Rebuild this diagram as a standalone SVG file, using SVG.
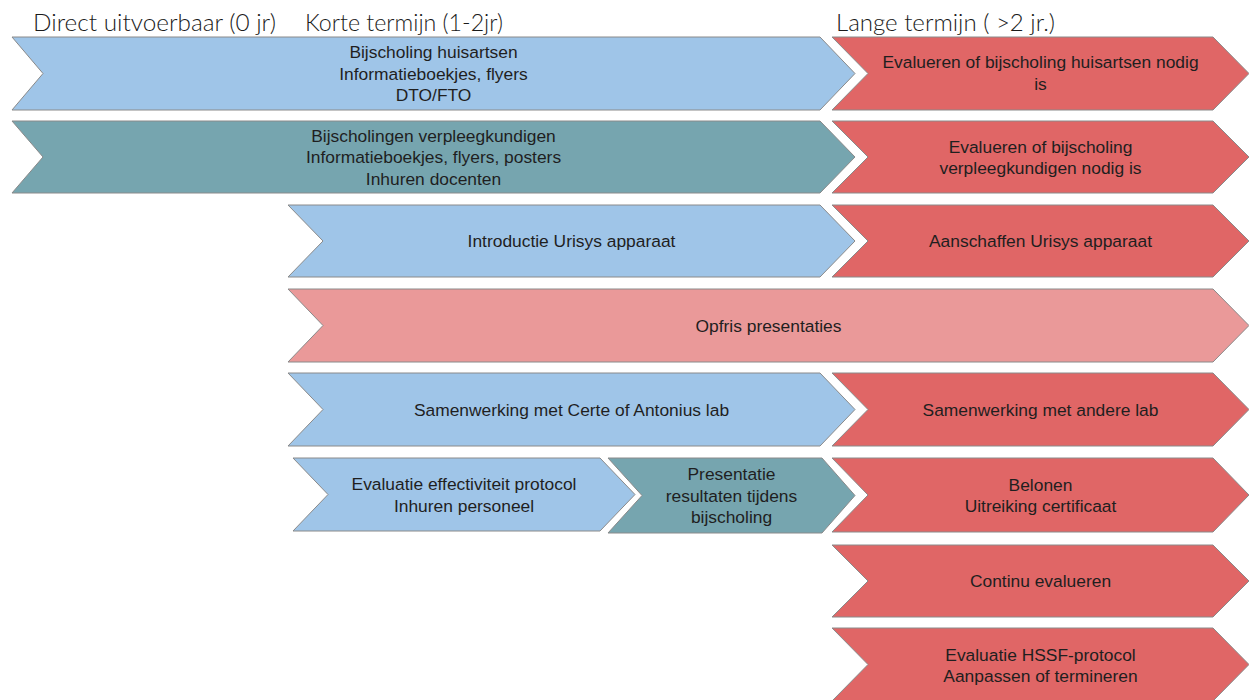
<svg xmlns="http://www.w3.org/2000/svg" width="1249" height="700" viewBox="0 0 1249 700">
  <style>
    .hdr { font-family: Lato, "Open Sans", sans-serif; font-size: 23px; font-weight: 300; fill: #1a1a1a; }
    .lbl { font-family: "Liberation Sans", Arial, sans-serif; font-size: 17.4px; fill: #1f1f1f; text-anchor: middle; }
    .arr { stroke: #8a8a8a; stroke-width: 1; stroke-linejoin: miter; }
    .blue { fill: #9fc5e8; }
    .teal { fill: #76a5af; }
    .red { fill: #e06666; }
    .pink { fill: #ea9999; }
  </style>
  <rect width="1249" height="700" fill="#ffffff"/>

  <!-- column headers -->
  <g id="headers">
    <text class="hdr" x="33" y="31" textLength="243" lengthAdjust="spacingAndGlyphs">Direct uitvoerbaar (0 jr)</text>
    <text class="hdr" x="305" y="31" textLength="198" lengthAdjust="spacingAndGlyphs">Korte termijn (1-2jr)</text>
    <text class="hdr" x="836" y="31" textLength="219" lengthAdjust="spacingAndGlyphs">Lange termijn ( &gt;2 jr.)</text>
  </g>

  <!-- row 1 -->
  <g id="bijscholing-huisartsen">
    <polygon class="arr blue" points="12,37 820,37 855,73.5 820,110 12,110 43,73.5"/>
    <text class="lbl" x="433.5" y="58">Bijscholing huisartsen</text>
    <text class="lbl" x="433.5" y="79.5">Informatieboekjes, flyers</text>
    <text class="lbl" x="433.5" y="101">DTO/FTO</text>
  </g>
  <g id="evalueren-huisartsen">
    <polygon class="arr red" points="832,37 1213,37 1249,73.5 1213,110 832,110 868,73.5"/>
    <text class="lbl" x="1040.5" y="68">Evalueren of bijscholing huisartsen nodig</text>
    <text class="lbl" x="1040.5" y="89.5">is</text>
  </g>

  <!-- row 2 -->
  <g id="bijscholing-verpleegkundigen">
    <polygon class="arr teal" points="12,121 820,121 855,157 820,193 12,193 43,157"/>
    <text class="lbl" x="433.5" y="141.5">Bijscholingen verpleegkundigen</text>
    <text class="lbl" x="433.5" y="163">Informatieboekjes, flyers, posters</text>
    <text class="lbl" x="433.5" y="184.5">Inhuren docenten</text>
  </g>
  <g id="evalueren-verpleegkundigen">
    <polygon class="arr red" points="832,121 1213,121 1249,157 1213,193 832,193 868,157"/>
    <text class="lbl" x="1040.5" y="152.5">Evalueren of bijscholing</text>
    <text class="lbl" x="1040.5" y="174">verpleegkundigen nodig is</text>
  </g>

  <!-- row 3 -->
  <g id="introductie-urisys">
    <polygon class="arr blue" points="288,205 820,205 855,241 820,277 288,277 323,241"/>
    <text class="lbl" x="571.5" y="247">Introductie Urisys apparaat</text>
  </g>
  <g id="aanschaffen-urisys">
    <polygon class="arr red" points="832,205 1213,205 1249,241 1213,277 832,277 868,241"/>
    <text class="lbl" x="1040.5" y="247">Aanschaffen Urisys apparaat</text>
  </g>

  <!-- row 4 -->
  <g id="opfris-presentaties">
    <polygon class="arr pink" points="288,289 1213,289 1249,325.5 1213,362 288,362 323,325.5"/>
    <text class="lbl" x="768.5" y="331.5">Opfris presentaties</text>
  </g>

  <!-- row 5 -->
  <g id="samenwerking-lab">
    <polygon class="arr blue" points="288,373 820,373 855,409.5 820,446 288,446 323,409.5"/>
    <text class="lbl" x="571.5" y="415.5">Samenwerking met Certe of Antonius lab</text>
  </g>
  <g id="samenwerking-andere-lab">
    <polygon class="arr red" points="832,373 1213,373 1249,409.5 1213,446 832,446 868,409.5"/>
    <text class="lbl" x="1040.5" y="415.5">Samenwerking met andere lab</text>
  </g>

  <!-- row 6 -->
  <g id="evaluatie-effectiviteit">
    <polygon class="arr blue" points="293,458 600,458 635,494.5 600,531 293,531 328,494.5"/>
    <text class="lbl" x="464" y="490">Evaluatie effectiviteit protocol</text>
    <text class="lbl" x="464" y="511.5">Inhuren personeel</text>
  </g>
  <g id="presentatie-resultaten">
    <polygon class="arr teal" points="608,458 822,458 855,495.5 822,533 608,533 642,495.5"/>
    <text class="lbl" x="731.5" y="480">Presentatie</text>
    <text class="lbl" x="731.5" y="501.5">resultaten tijdens</text>
    <text class="lbl" x="731.5" y="523">bijscholing</text>
  </g>
  <g id="belonen">
    <polygon class="arr red" points="832,458 1213,458 1249,495 1213,532 832,532 868,495"/>
    <text class="lbl" x="1040.5" y="490.5">Belonen</text>
    <text class="lbl" x="1040.5" y="512">Uitreiking certificaat</text>
  </g>

  <!-- row 7 -->
  <g id="continu-evalueren">
    <polygon class="arr red" points="832,545 1213,545 1249,581 1213,617 832,617 868,581"/>
    <text class="lbl" x="1040.5" y="587">Continu evalueren</text>
  </g>

  <!-- row 8 -->
  <g id="evaluatie-hssf">
    <polygon class="arr red" points="832,628 1213,628 1249,664.5 1213,701 832,701 868,664.5"/>
    <text class="lbl" x="1040.5" y="660.5">Evaluatie HSSF-protocol</text>
    <text class="lbl" x="1040.5" y="682">Aanpassen of termineren</text>
  </g>

  <!-- no connectors: the chevrons abut each other -->
  <g id="connectors"/>
</svg>
